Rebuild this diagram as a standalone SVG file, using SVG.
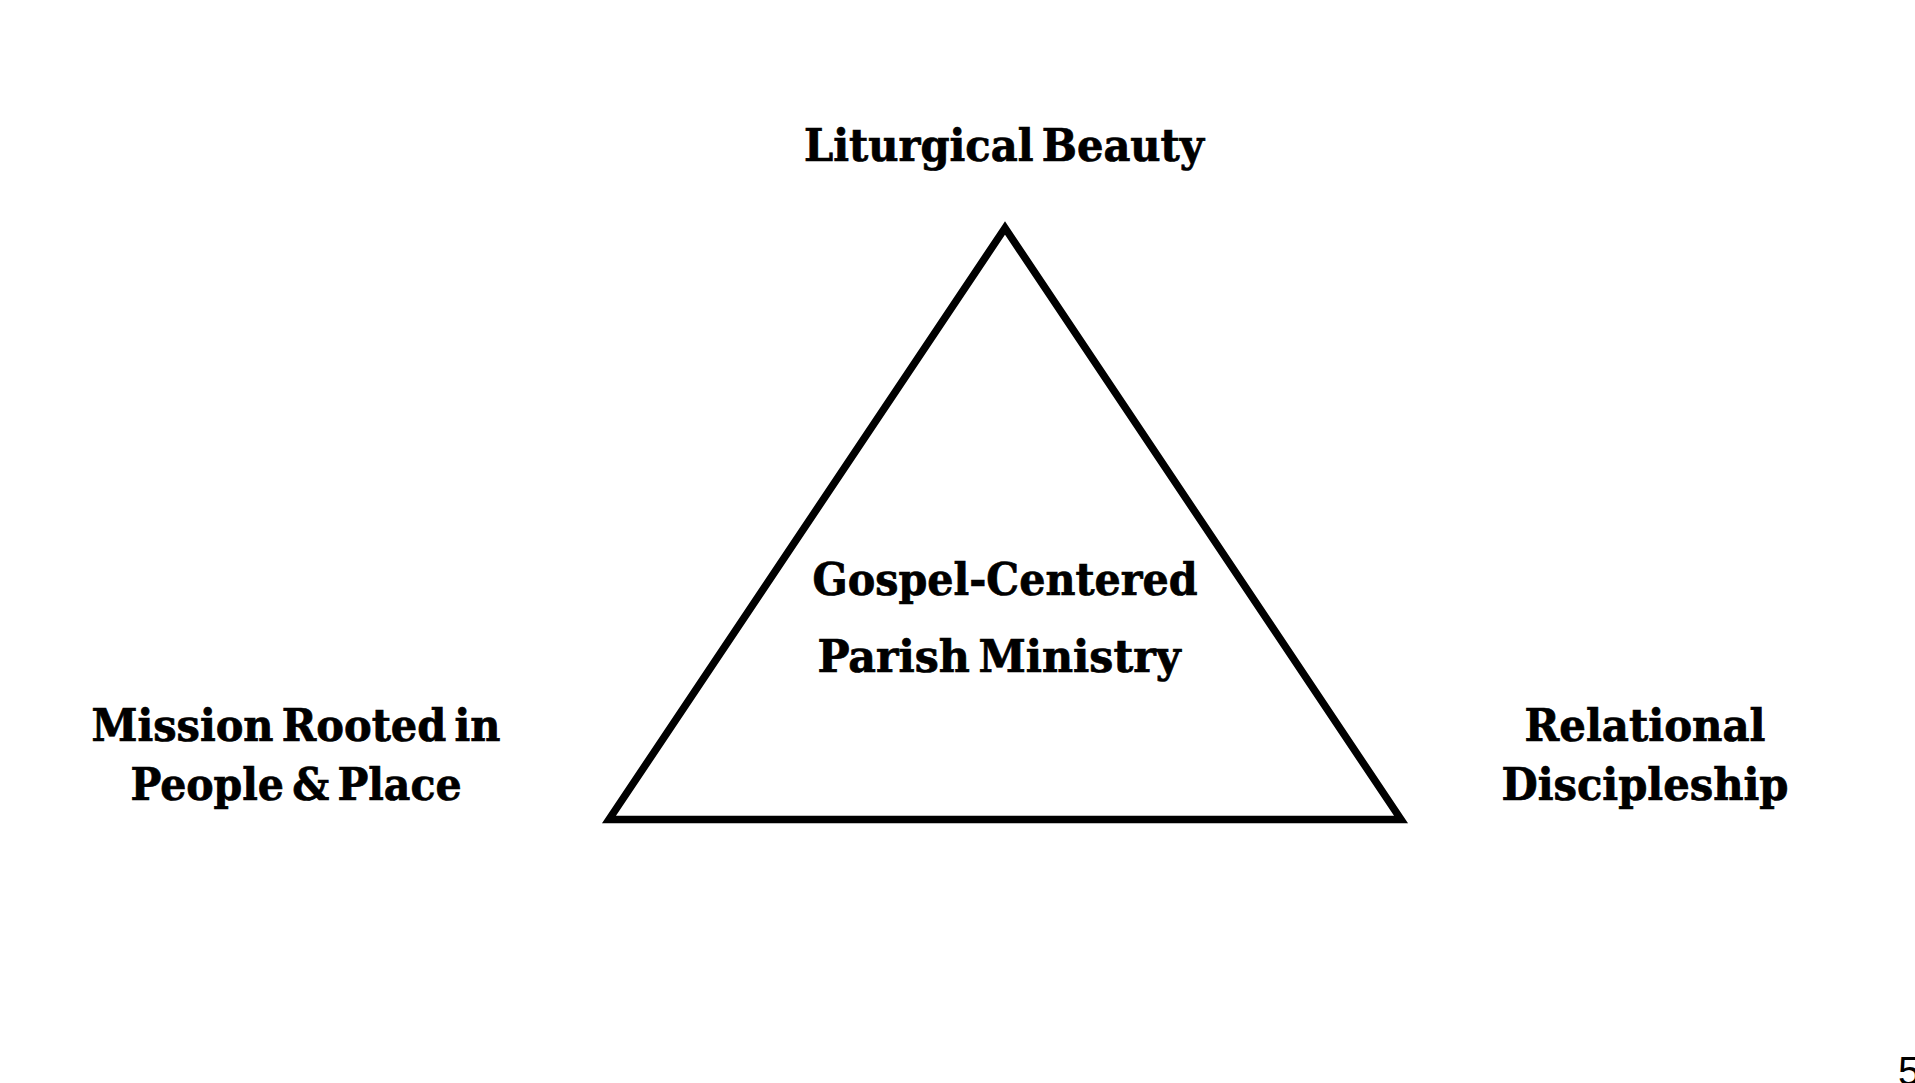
<svg xmlns="http://www.w3.org/2000/svg" width="1915" height="1083" viewBox="0 0 1915 1083">
<style>
.lbl{font-family:"DejaVu Serif Condensed","DejaVu Serif","Liberation Serif",serif;font-weight:bold;font-size:45px;fill:#000;stroke:#000;stroke-width:0.7;text-anchor:middle;word-spacing:-6px}
.pg{font-family:"Liberation Sans",Arial,sans-serif;font-size:40px;fill:#000}
</style>
<rect width="1915" height="1083" fill="#fff"/>
<g id="connectors">
<polygon id="triangle" points="1005,228 609,819.5 1401,819.5" fill="none" stroke="#000" stroke-width="7.5" stroke-linejoin="miter"/>
</g>
<g id="node-top"><text class="lbl" x="1004" y="161" textLength="400" lengthAdjust="spacingAndGlyphs">Liturgical Beauty</text></g>
<g id="node-center">
<text class="lbl" x="1005" y="595" textLength="385" lengthAdjust="spacingAndGlyphs">Gospel-Centered</text>
<text class="lbl" x="999" y="672" textLength="363" lengthAdjust="spacingAndGlyphs">Parish Ministry</text>
</g>
<g id="node-left">
<text class="lbl" x="296" y="741" textLength="409" lengthAdjust="spacingAndGlyphs">Mission Rooted in</text>
<text class="lbl" x="296" y="800" textLength="331" lengthAdjust="spacingAndGlyphs">People &amp; Place</text>
</g>
<g id="node-right">
<text class="lbl" x="1645" y="741" textLength="241" lengthAdjust="spacingAndGlyphs">Relational</text>
<text class="lbl" x="1645" y="800" textLength="287" lengthAdjust="spacingAndGlyphs">Discipleship</text>
</g>
<text class="pg" x="1898" y="1085">5</text>
</svg>
